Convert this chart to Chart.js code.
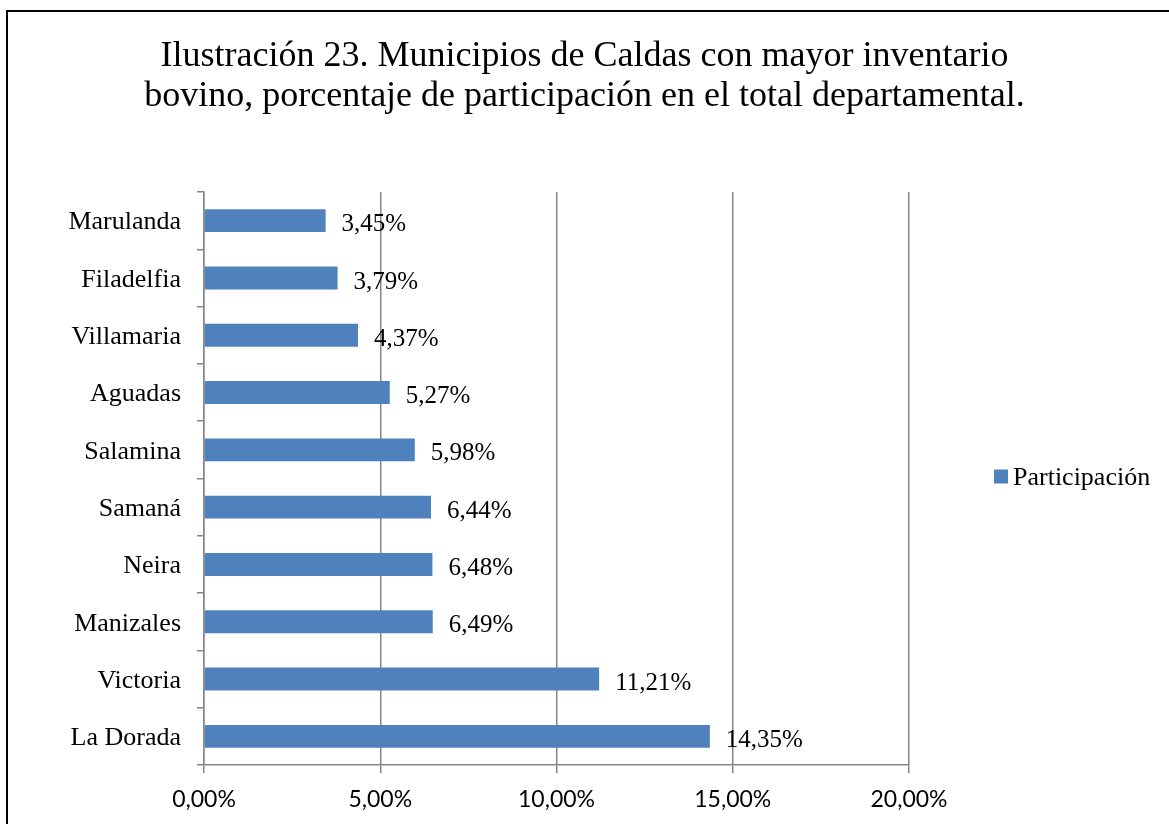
<!DOCTYPE html>
<html>
<head>
<meta charset="utf-8">
<script src="https://cdn.jsdelivr.net/npm/chart.js@4/dist/chart.umd.min.js"></script>
<style>
  html, body { margin: 0; padding: 0; background: #fff; overflow: hidden; }
  #frame { position: absolute; left: 6px; top: 10px; width: 1200px; height: 900px; border: 2px solid #000; box-sizing: border-box; }
  #wrap { position: absolute; left: 0; top: 0; width: 1169px; height: 824px; }
</style>
</head>
<body>
<div id="frame"></div>
<div id="wrap"><canvas id="c" width="1169" height="824"></canvas></div>
<script>
const titleLines = [
  "Ilustración 23. Municipios de Caldas con mayor inventario",
  "bovino, porcentaje de participación en el total departamental."
];
const categories = ["Marulanda", "Filadelfia", "Villamaria", "Aguadas", "Salamina", "Samaná", "Neira", "Manizales", "Victoria", "La Dorada"];
const participacion = [3.45, 3.79, 4.37, 5.27, 5.98, 6.44, 6.48, 6.49, 11.21, 14.35];
const seriesName = "Participación";
const xTicks = [0, 5, 10, 15, 20];

const SERIF = "'Liberation Serif', 'Times New Roman', serif";
const SANS = "Lato, 'Open Sans', sans-serif";
const BAR = "#4F81BD";
const GRID = "#868686";

const fmt = v => v.toFixed(2).replace('.', ',') + '%';

const pageTitle = {
  id: 'pageTitle',
  afterDraw(chart) {
    const ctx = chart.ctx;
    ctx.save();
    ctx.font = "36px " + SERIF;
    ctx.fillStyle = "#000";
    ctx.textAlign = "center";
    ctx.textBaseline = "alphabetic";
    const cx = chart.width / 2;
    titleLines.forEach((t, i) => ctx.fillText(t, cx, 66 + i * 39.5));
    ctx.restore();
  }
};

const dataLabels = {
  id: 'dataLabels',
  afterDatasetsDraw(chart) {
    const ctx = chart.ctx;
    const meta = chart.getDatasetMeta(0);
    const ds = chart.data.datasets[0];
    ctx.save();
    ctx.font = "25px " + SERIF;
    ctx.fillStyle = "#000";
    ctx.textAlign = "left";
    ctx.textBaseline = "middle";
    meta.data.forEach((bar, i) => {
      ctx.fillText(fmt(ds.data[i]), bar.x + 16, bar.y + 4);
    });
    ctx.restore();
  }
};

const sideLegend = {
  id: 'sideLegend',
  afterDraw(chart) {
    const ctx = chart.ctx;
    const a = chart.chartArea;
    const ds = chart.data.datasets[0];
    const cy = (a.top + a.bottom) / 2 - 2;
    const bx = a.right + 85;
    ctx.save();
    ctx.fillStyle = ds.backgroundColor;
    ctx.fillRect(bx, cy - 7, 14, 14);
    ctx.font = "26px " + SERIF;
    ctx.fillStyle = "#000";
    ctx.textAlign = "left";
    ctx.textBaseline = "middle";
    ctx.fillText(ds.label, bx + 19, cy + 2);
    ctx.restore();
  }
};

new Chart(document.getElementById('c'), {
  type: 'bar',
  data: {
    labels: categories,
    datasets: [{
      label: seriesName,
      data: participacion,
      backgroundColor: BAR,
      borderWidth: 0,
      barPercentage: 0.4,
      categoryPercentage: 1.0
    }]
  },
  options: {
    indexAxis: 'y',
    responsive: false,
    animation: false,
    devicePixelRatio: 1,
    layout: { padding: { left: 0, right: 260, top: 192, bottom: 0 } },
    plugins: {
      legend: { display: false },
      tooltip: { enabled: false },
      title: { display: false }
    },
    scales: {
      x: {
        type: 'linear',
        min: 0,
        max: 20,
        afterBuildTicks(scale) { scale.ticks = xTicks.map(v => ({ value: v })); },
        afterFit(scale) { scale.height = 59; },
        grid: { color: GRID, lineWidth: 1.5, tickLength: 8, drawTicks: true },
        border: { display: true, color: GRID, width: 1.5 },
        ticks: {
          color: "#000",
          padding: 13,
          font: { family: SANS, size: 23 },
          callback: v => fmt(v),
          maxRotation: 0
        }
      },
      y: {
        afterFit(scale) { scale.width = 204; },
        grid: { display: true, drawOnChartArea: false, drawTicks: true, tickLength: 7, color: GRID, lineWidth: 1.5, offset: true },
        border: { display: true, color: GRID, width: 1.5 },
        ticks: {
          color: "#000",
          padding: 16,
          labelOffset: 2,
          font: { family: SERIF, size: 26 }
        }
      }
    }
  },
  plugins: [dataLabels, sideLegend, pageTitle]
});
</script>
</body>
</html>
